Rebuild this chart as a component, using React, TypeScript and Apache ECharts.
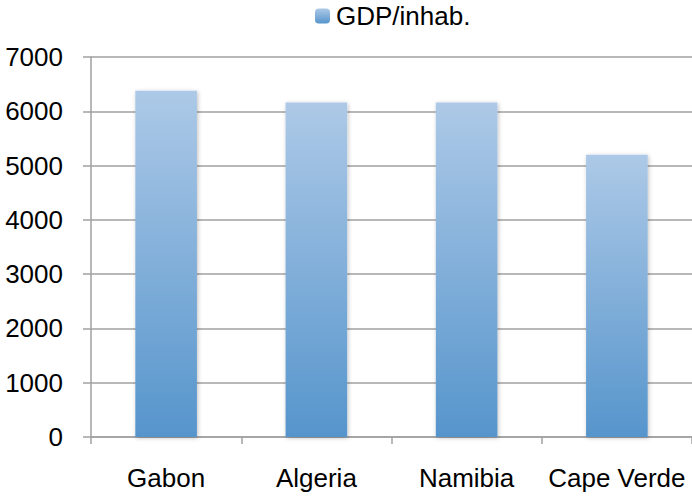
import React, { useEffect, useRef } from "react";
import * as echarts from "echarts";

const categories = ["Gabon", "Algeria", "Namibia", "Cape Verde"];
const gdpPerInhab = [6380, 6160, 6160, 5200];
const seriesName = "GDP/inhab.";

export default function App() {
  const ref = useRef<HTMLDivElement>(null);
  useEffect(() => {
    if (!ref.current) return;
    const chart = echarts.init(ref.current, null, { renderer: "svg" });
    const font = "'Liberation Sans', Arial, sans-serif";
    const grad = new echarts.graphic.LinearGradient(0, 0, 0, 1, [
      { offset: 0, color: "#adc9e7" },
      { offset: 1, color: "#5695cc" },
    ]);
    chart.setOption({
      animation: false,
      backgroundColor: "#ffffff",
      legend: {
        top: 3,
        left: 315,
        padding: 0,
        itemWidth: 15,
        itemHeight: 15,
        itemGap: 4,
        data: [seriesName],
        textStyle: { fontFamily: font, fontSize: 26, color: "#000", padding: [0, 0, 0, 1] },
      },
      grid: { left: 91, right: 0, top: 57, bottom: 59, containLabel: false },
      xAxis: {
        type: "category",
        data: categories,
        axisLine: { show: true, lineStyle: { color: "#a0a0a0", width: 1.5 } },
        axisTick: { show: true, length: 7, lineStyle: { color: "#a0a0a0", width: 1.5 } },
        axisLabel: { fontFamily: font, fontSize: 26, color: "#000", margin: 28, interval: 0, hideOverlap: false },
      },
      yAxis: {
        type: "value",
        min: 0,
        max: 7000,
        interval: 1000,
        axisLine: { show: true, lineStyle: { color: "#a0a0a0", width: 1.5 } },
        axisTick: { show: true, length: 8, lineStyle: { color: "#a0a0a0", width: 1.5 } },
        splitLine: { show: true, lineStyle: { color: "#a0a0a0", width: 1.5 } },
        axisLabel: {
          fontFamily: font,
          fontSize: 26,
          color: "#000",
          margin: 28,
          formatter: (v: number) => String(v),
        },
      },
      series: [
        {
          name: seriesName,
          type: "bar",
          data: gdpPerInhab,
          barWidth: "41%",
          itemStyle: {
            color: grad,
            shadowColor: "rgba(0,0,0,0.25)",
            shadowBlur: 4,
            shadowOffsetX: 1,
            shadowOffsetY: 1,
          },
        },
      ],
    });
    return () => chart.dispose();
  }, []);
  return <div ref={ref} style={{ width: 692, height: 496, position: "absolute", left: 0, top: 0 }} />;
}
